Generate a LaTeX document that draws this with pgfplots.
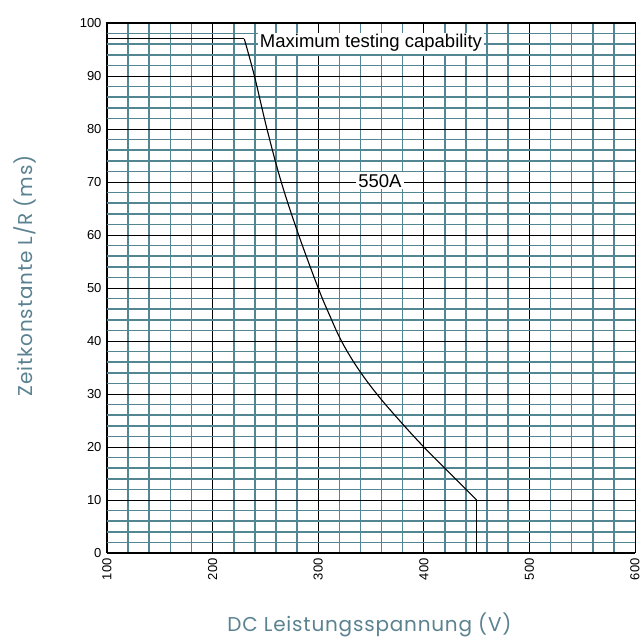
\documentclass[border=0pt]{standalone}
\usepackage{pgfplots}
\pgfplotsset{compat=1.18}
\usepackage{fontspec}
\setmainfont{Liberation Sans}
\newfontfamily\labfont[LetterSpace=4]{Poppins}
\definecolor{minorgrid}{RGB}{82,134,146}
\definecolor{labcol}{RGB}{90,130,144}
\begin{document}
\begin{tikzpicture}
\begin{axis}[
  scale only axis,
  width=528pt, height=530pt,
  xmin=100, xmax=600, ymin=0, ymax=100,
  xtick={100,200,...,600}, ytick={0,10,...,100},
  minor x tick num=4, minor y tick num=4,
  grid=both,
  major grid style={black, line width=0.8pt},
  minor grid style={minorgrid, line width=1.6pt},
  axis line style={black, line width=1pt},
  major tick length=0pt, minor tick length=0pt,
  tick label style={font=\fontsize{13}{15}\selectfont},
  /pgf/number format/assume math mode=true,
  x tick label style={rotate=90, anchor=east},
  xticklabel shift=2pt,
  yticklabel shift=2pt,
  xlabel={DC Leistungsspannung (V)},
  ylabel={Zeitkonstante L/R (ms)},
  label style={font=\labfont\fontsize{20}{22}\selectfont, color=labcol},
  xlabel style={at={(axis description cs:0.497,-0.136)}, anchor=center},
  ylabel style={at={(axis description cs:-0.155,0.523)}, anchor=center},
  clip=false,
]
\addplot[black, line width=1.1pt] coordinates {(100,97)(230,97)};
\addplot[black, line width=1.1pt, smooth, tension=0.6] coordinates {
(230,97)(239.6,90)(251.5,80)(265,70)(281.5,60)(300,50)(310.5,45)(322,40)(337,35)(355.5,30)(377,25)(400,20)(425,15)(450,10)
};
\addplot[black, line width=1.1pt] coordinates {(450,10)(450,0)};
\node[fill=white, inner sep=2pt, font=\fontsize{18.5}{20}\selectfont] at (axis cs:350,96.2) {Maximum testing capability};
\node[fill=white, inner sep=2pt, font=\fontsize{18.5}{20}\selectfont] at (axis cs:358.5,70.2) {550A};
\end{axis}
\pgfresetboundingbox
\path (current axis.south west) ++(-107pt,-89pt) coordinate (bl);
\path (current axis.north east) ++(8pt,23pt) coordinate (tr);
\path[use as bounding box] (bl) rectangle (tr);
\end{tikzpicture}
\end{document}
